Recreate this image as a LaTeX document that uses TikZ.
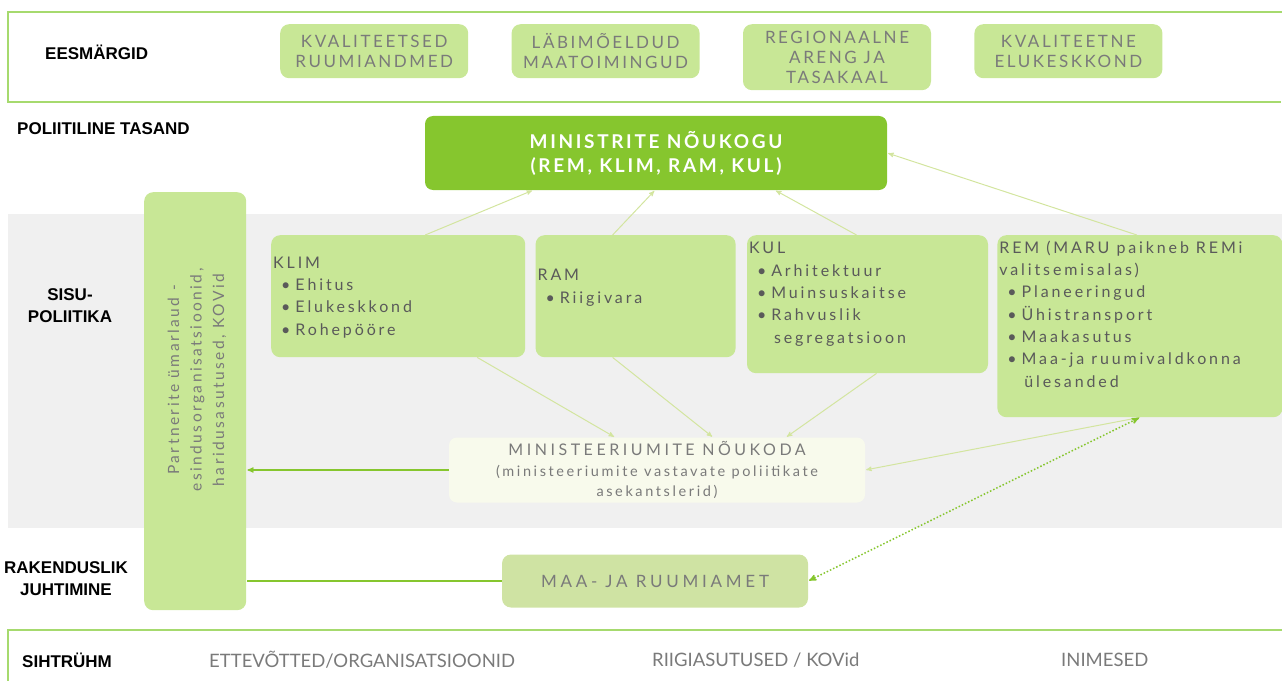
\documentclass[tikz,border=0pt]{standalone}
\usepackage{fontspec}
\setmainfont{Lato}
\newfontfamily\headfont{Liberation Sans}
\newfontfamily\widefont[LetterSpace=22]{Lato}
\newfontfamily\goalfont[LetterSpace=15]{Lato}
\newfontfamily\councilfont[LetterSpace=14]{Lato}
\newfontfamily\bodyfont[LetterSpace=18]{Lato}
\newfontfamily\sidefont[LetterSpace=16]{Lato}
\usetikzlibrary{arrows,positioning}

\definecolor{bandgreen}{HTML}{A6DA6E}
\definecolor{goalgreen}{HTML}{C8E796}
\definecolor{boldgreen}{HTML}{86C62E}
\definecolor{bggray}{HTML}{F0F0F0}
\definecolor{palegreen}{HTML}{F8FAEC}
\definecolor{ametgreen}{HTML}{CFE3A3}
\definecolor{linkgreen}{HTML}{D3E59F}
\definecolor{txtgray}{HTML}{5A5A5A}
\definecolor{lightgray}{HTML}{7A7A7A}

\newcommand{\itm}{\hspace*{8pt}\textbullet\hspace{5pt}}
\newcommand{\itmc}{\hspace*{25pt}}

\tikzset{
  lbl/.style={font=\headfont\bfseries\fontsize{17}{22}\selectfont, align=center, inner sep=0pt},
  goal/.style={fill=goalgreen, rounded corners=9pt, text=lightgray, align=center,
    font=\goalfont\fontsize{17}{20}\selectfont, minimum width=188pt, minimum height=54pt, inner sep=0pt},
  council/.style={fill=boldgreen, rounded corners=8pt, text=white, align=center,
    font=\councilfont\bfseries\fontsize{19}{24}\selectfont, minimum width=462pt, minimum height=74pt},
  mbox/.style={fill=goalgreen, rounded corners=9pt, anchor=north west, inner sep=0pt},
  mtxt/.style={anchor=base west, align=left, inner sep=0pt, text=txtgray,
    font=\bodyfont\fontsize{16}{22.3}\selectfont},
  target/.style={anchor=west, inner sep=0pt, text=lightgray, font=\fontsize{18.5}{22}\selectfont},
  link/.style={linkgreen, line width=1pt},
  mainlink/.style={boldgreen, line width=1.2pt}
}

\begin{document}
\begin{tikzpicture}[x=1pt,y=-1pt,>=stealth',shorten >=1pt,node distance=43pt]
\useasboundingbox (0,0) rectangle (1282,682);
\fill[bggray] (8,214) rectangle (1282,528);
\draw[bandgreen,line width=2pt] (1282,12) -- (8,12) -- (8,102) -- (1282,102);
\draw[bandgreen,line width=2pt] (1282,630) -- (8,630) -- (8,682);

\node[lbl,anchor=west] (eesm) at (45,52) {EESMÄRGID};
\node[goal,anchor=north west] (g1) at (280,24) {KVALITEETSED\\RUUMIANDMED};
\node[goal,right=of g1.north east,anchor=north west] (g2) {LÄBIMÕELDUD\\MAATOIMINGUD};
\node[goal,right=of g2.north east,anchor=north west,minimum height=66pt] (g3) {REGIONAALNE\\ARENG JA\\TASAKAAL};
\node[goal,right=of g3.north east,anchor=north west] (g4) {KVALITEETNE\\ELUKESKKOND};

\node[lbl,anchor=west] (pol) at (17,129) {POLIITILINE TASAND};
\node[council] (mnk) at (656,153) {MINISTRITE NÕUKOGU\\(REM, KLIM, RAM, KUL)};

\node[lbl] (sisu) at (70,306) {SISU-\\POLIITIKA};
\node[mbox,minimum width=102pt,minimum height=418pt] (partner) at (144,192) {};
\node[anchor=center,align=center,rotate=90,text=lightgray,inner sep=0pt,
  font=\sidefont\fontsize{15.5}{22.5}\selectfont] (partnert) at (197,380)
  {Partnerite ümarlaud -\\esindusorganisatsioonid,\\haridusasutused, KOVid};

\node[mbox,minimum width=254pt,minimum height=122pt] (klim) at (271,235) {};
\node[mbox,right=10pt of klim.north east,anchor=north west,minimum width=200pt,minimum height=122pt] (ram) {};
\node[mbox,right=11pt of ram.north east,anchor=north west,minimum width=241pt,minimum height=138pt] (kul) {};
\node[mbox,right=9pt of kul.north east,anchor=north west,minimum width=285pt,minimum height=182pt] (rem) {};

\node[mtxt] (klimt) at ([shift={(2,100)}]klim.north west)
  {KLIM\\\itm Ehitus\\\itm Elukeskkond\\\itm Rohepööre};
\node[mtxt] (ramt) at ([shift={(2,68)}]ram.north west)
  {RAM\\\itm Riigivara};
\node[mtxt] (kult) at ([shift={(2,108)}]kul.north west)
  {KUL\\\itm Arhitektuur\\\itm Muinsuskaitse\\\itm Rahvuslik\\\itmc segregatsioon};
\node[mtxt] (remt) at ([shift={(2,152)}]rem.north west)
  {REM (MARU paikneb REMi\\valitsemisalas)\\\itm Planeeringud\\\itm Ühistransport\\\itm Maakasutus\\\itm Maa-ja ruumivaldkonna\\\itmc ülesanded};

\node[fill=palegreen,rounded corners=8pt,align=center,text=lightgray,minimum width=416pt,minimum height=65pt,inner sep=0pt,
  font=\bodyfont\fontsize{14.5}{20.5}\selectfont] (nk) at (657,470)
  {{\widefont\fontsize{16}{20.5}\selectfont MINISTEERIUMITE NÕUKODA}\\
   (ministeeriumite vastavate poliitikate\\
   asekantslerid)};

\node[lbl] (rak) at (66,579) {RAKENDUSLIK\\JUHTIMINE};
\node[goal,fill=ametgreen,font=\widefont\fontsize{17}{20}\selectfont,minimum width=306pt,minimum height=53pt] (maa) at (655,581) {MAA- JA RUUMIAMET};

\node[lbl,anchor=west] (siht) at (22,660) {SIHTRÜHM};
\node[target] (ettev) at (209,660) {ETTEVÕTTED/ORGANISATSIOONID};
\node[target] (riigi) at (652,660) {RIIGIASUTUSED / KOVid};
\node[target] (inim) at (1061,660) {INIMESED};

\path[->,link]
  ([xshift=27]klim.north) edge ([xshift=-123]mnk.south)
  ([xshift=-23]ram.north) edge ([xshift=-1]mnk.south)
  ([xshift=-11]kul.north) edge ([xshift=119]mnk.south)
  ([xshift=-3]rem.north) edge (mnk.east)
  ([xshift=79]klim.south) edge ([xshift=-42]nk.north)
  ([xshift=-23]ram.south) edge ([xshift=56]nk.north)
  ([xshift=9]kul.south) edge ([xshift=129]nk.north)
  (rem.south) edge (nk.east);
\path[mainlink]
  (nk.west) edge[->] (nk.west -| partner.east)
  (maa.west) edge (maa.west -| partner.east)
  (maa.east) edge[<->,dotted,line width=1.5pt,shorten <=1pt] (rem.south);
\end{tikzpicture}
\end{document}
